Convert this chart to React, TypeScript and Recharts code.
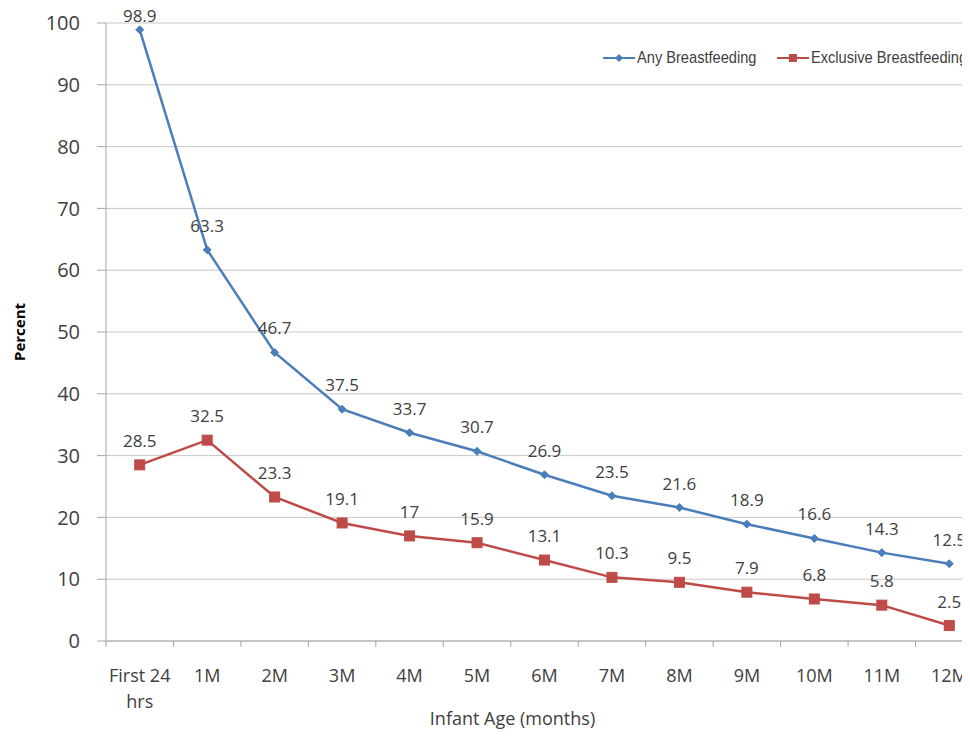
import React from "react";
import {
  LineChart,
  Line,
  XAxis,
  YAxis,
  CartesianGrid,
  LabelList,
} from "recharts";

const ages = ["First 24 hrs", "1M", "2M", "3M", "4M", "5M", "6M", "7M", "8M", "9M", "10M", "11M", "12M"];
const anyBreastfeeding = [98.9, 63.3, 46.7, 37.5, 33.7, 30.7, 26.9, 23.5, 21.6, 18.9, 16.6, 14.3, 12.5];
const exclusiveBreastfeeding = [28.5, 32.5, 23.3, 19.1, 17, 15.9, 13.1, 10.3, 9.5, 7.9, 6.8, 5.8, 2.5];
const yTicks = [0, 10, 20, 30, 40, 50, 60, 70, 80, 90, 100];

const data = ages.map((age, i) => ({
  age,
  any: anyBreastfeeding[i],
  exclusive: exclusiveBreastfeeding[i],
}));

const BLUE = "#4a7ebb";
const RED = "#be4b48";
const TEXT = "#404040";
const FONT = "'Open Sans', sans-serif";

function AgeTick(props: any) {
  const { x, y, payload, index } = props;
  const half = payload.offset || 0;
  const words = String(payload.value).split(" ");
  const lines = words.length > 2 ? [words.slice(0, 2).join(" "), words.slice(2).join(" ")] : [payload.value];
  return (
    <g>
      <line x1={x - half} x2={x - half} y1={y - 8} y2={y - 2} stroke="#a6a6a6" />
      {index === ages.length - 1 && (
        <line x1={x + half} x2={x + half} y1={y - 8} y2={y - 2} stroke="#a6a6a6" />
      )}
      <text x={x} y={y + 33} textAnchor="middle" fill={TEXT} fontSize={18} fontFamily={FONT}>
        {lines.map((l: string, i: number) => (
          <tspan key={i} x={x} dy={i === 0 ? 0 : 26}>
            {l}
          </tspan>
        ))}
      </text>
    </g>
  );
}

function PercentLabel(props: any) {
  const { viewBox } = props;
  const cx = viewBox.x + 19;
  const cy = viewBox.y + viewBox.height / 2;
  return (
    <text
      x={cx}
      y={cy}
      transform={`rotate(-90, ${cx}, ${cy})`}
      textAnchor="middle"
      dominantBaseline="central"
      fontSize={15}
      fontWeight="bold"
      fontFamily={FONT}
      fill="#000"
    >
      Percent
    </text>
  );
}

// value label above a point, kept inside the top of the plot
function PointLabel(props: any) {
  const vb = props.viewBox || props;
  const x = vb.x + (vb.width || 0) / 2;
  const y = Math.max(vb.y - 18, 22);
  return (
    <text x={x} y={y} textAnchor="middle" fill={TEXT} fontSize={17} fontFamily={FONT}>
      {props.value}
    </text>
  );
}

function DiamondDot(props: any) {
  const { cx, cy } = props;
  if (cx == null || cy == null) return null;
  const r = 4;
  return (
    <path
      d={`M${cx},${cy - r}L${cx + r},${cy}L${cx},${cy + r}L${cx - r},${cy}Z`}
      fill={BLUE}
      stroke={BLUE}
    />
  );
}

function SquareDot(props: any) {
  const { cx, cy } = props;
  if (cx == null || cy == null) return null;
  const s = 5;
  return <rect x={cx - s} y={cy - s} width={s * 2} height={s * 2} fill={RED} stroke={RED} />;
}

function LegendItem({ color, square, label, left }: { color: string; square: boolean; label: string; left: number }) {
  return (
    <div
      style={{
        position: "absolute",
        left,
        top: 48,
        height: 20,
        display: "flex",
        alignItems: "center",
        whiteSpace: "nowrap",
      }}
    >
      <svg width={32} height={10}>
        <line x1={0} x2={32} y1={5} y2={5} stroke={color} strokeWidth={2} />
        {square ? (
          <rect x={12} y={1} width={8} height={8} fill={color} />
        ) : (
          <path d="M16,1L20,5L16,9L12,5Z" fill={color} />
        )}
      </svg>
      <span
        style={{
          marginLeft: 2,
          display: "inline-block",
          transform: "scaleX(0.86)",
          transformOrigin: "left center",
          fontFamily: "'Liberation Sans', Arial, sans-serif",
          fontSize: 17,
          lineHeight: "20px",
          color: TEXT,
        }}
      >
        {label}
      </span>
    </div>
  );
}

export default function App() {
  return (
    <div
      style={{
        position: "relative",
        margin: -8,
        width: 970,
        height: 738,
        overflow: "hidden",
        background: "#fff",
      }}
    >
      <LineChart width={1000} height={738} data={data} margin={{ top: 23, right: 17, left: 0, bottom: 0 }}>
        <CartesianGrid vertical={false} stroke="#c8c8c8" />
        <XAxis
          dataKey="age"
          scale="band"
          stroke="#a6a6a6"
          tickLine={false}
          tick={<AgeTick />}
          interval={0}
          height={97}
          label={{
            value: "Infant Age (months)",
            position: "insideBottom",
            offset: 13,
            dx: -32,
            fill: TEXT,
            fontSize: 18,
            fontFamily: FONT,
          }}
        />
        <YAxis
          domain={[0, 100]}
          ticks={yTicks}
          width={106}
          stroke="#a6a6a6"
          tickSize={9}
          tick={{ fill: TEXT, fontSize: 20, fontFamily: FONT }}
          tickMargin={17}
          label={<PercentLabel />}
        />
        <Line
          type="linear"
          dataKey="any"
          name="Any Breastfeeding"
          stroke={BLUE}
          strokeWidth={2.5}
          dot={<DiamondDot />}
          isAnimationActive={false}
        >
          <LabelList dataKey="any" content={<PointLabel />} />
        </Line>
        <Line
          type="linear"
          dataKey="exclusive"
          name="Exclusive Breastfeeding"
          stroke={RED}
          strokeWidth={2.5}
          dot={<SquareDot />}
          isAnimationActive={false}
        >
          <LabelList dataKey="exclusive" content={<PointLabel />} />
        </Line>
      </LineChart>
      <LegendItem color={BLUE} square={false} label="Any Breastfeeding" left={603} />
      <LegendItem color={RED} square={true} label="Exclusive Breastfeeding" left={777} />
    </div>
  );
}
